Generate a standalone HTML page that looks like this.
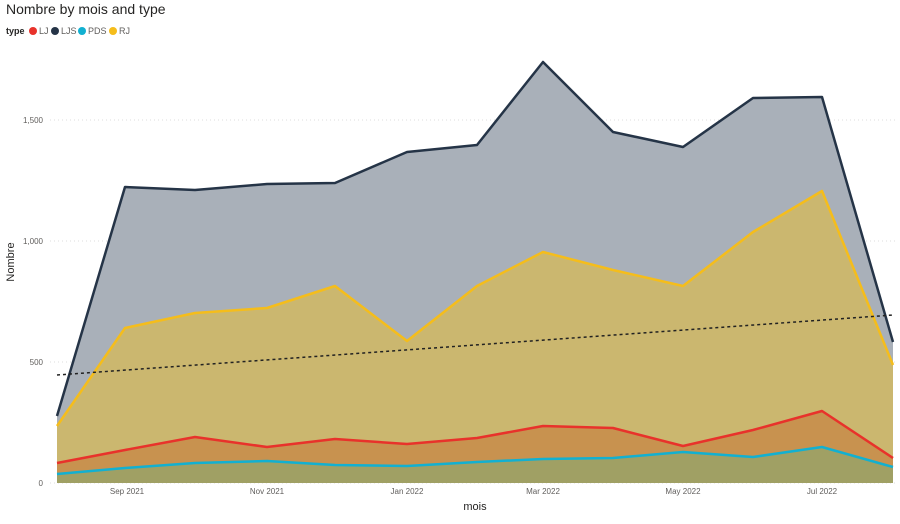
<!DOCTYPE html><html><head><style>body{margin:0;background:#fff;font-family:"Liberation Sans",sans-serif}</style></head><body>
<svg width="900" height="519" xmlns="http://www.w3.org/2000/svg" font-family="Liberation Sans, sans-serif">
<text x="6" y="14" font-size="14" fill="#252423">Nombre by mois and type</text>
<text x="6" y="34" font-size="9" font-weight="bold" fill="#252423">type</text>
<circle cx="33" cy="31" r="4" fill="#e8322b"/><text x="39" y="34" font-size="9" fill="#605e5c">LJ</text>
<circle cx="55" cy="31" r="4" fill="#253447"/><text x="61" y="34" font-size="9" fill="#605e5c">LJS</text>
<circle cx="82" cy="31" r="4" fill="#12b0d1"/><text x="88" y="34" font-size="9" fill="#605e5c">PDS</text>
<circle cx="113" cy="31" r="4" fill="#f5bd1b"/><text x="119" y="34" font-size="9" fill="#605e5c">RJ</text>
<g stroke="#ddd" stroke-dasharray="1,3"><line x1="50" y1="120" x2="895" y2="120"/><line x1="50" y1="241" x2="895" y2="241"/><line x1="50" y1="362" x2="895" y2="362"/><line x1="50" y1="483" x2="895" y2="483"/></g>
<g font-size="8" fill="#605e5c" text-anchor="end"><text x="43" y="123">1,500</text><text x="43" y="244">1,000</text><text x="43" y="365">500</text><text x="43" y="486">0</text></g>
<text transform="translate(14,262) rotate(-90)" font-size="11" fill="#252423" text-anchor="middle">Nombre</text>
<g font-size="8" fill="#605e5c" text-anchor="middle"><text x="127" y="494">Sep 2021</text><text x="267" y="494">Nov 2021</text><text x="407" y="494">Jan 2022</text><text x="543" y="494">Mar 2022</text><text x="683" y="494">May 2022</text><text x="822" y="494">Jul 2022</text></g>
<text x="475" y="510" font-size="11" fill="#252423" text-anchor="middle">mois</text>
<polygon fill="#a9b0b9" points="57,483 57,416 125,187 195,190 267,184 335,183 407,152 477,145 543,62 613,132 683,147 753,98 822,97 893,342 893,483"/>
<polygon fill="#cbb76f" points="57,483 57,426 125,328 195,313 267,308 335,286 407,341 477,286 543,252 613,270 683,286 753,232 822,191 893,365 893,483"/>
<polygon fill="#c8924f" points="57,483 57,463 125,450 195,437 267,447 335,439 407,444 477,438 543,426 613,428 683,446 753,430 822,411 893,458 893,483"/>
<polygon fill="#a0a064" points="57,483 57,474 125,468 195,463 267,461 335,465 407,466 477,462 543,459 613,458 683,452 753,457 822,447 893,467 893,483"/>
<g fill="none" stroke-width="2.5" stroke-linejoin="round">
<polyline stroke="#253447" points="57,416 125,187 195,190 267,184 335,183 407,152 477,145 543,62 613,132 683,147 753,98 822,97 893,342"/>
<polyline stroke="#f5bd1b" points="57,426 125,328 195,313 267,308 335,286 407,341 477,286 543,252 613,270 683,286 753,232 822,191 893,365"/>
<polyline stroke="#e8322b" points="57,463 125,450 195,437 267,447 335,439 407,444 477,438 543,426 613,428 683,446 753,430 822,411 893,458"/>
<polyline stroke="#12b0d1" points="57,474 125,468 195,463 267,461 335,465 407,466 477,462 543,459 613,458 683,452 753,457 822,447 893,467"/>
</g>
<line x1="57" y1="375" x2="893" y2="315" stroke="#222" stroke-width="1.5" stroke-dasharray="3,3"/>
</svg></body></html>
